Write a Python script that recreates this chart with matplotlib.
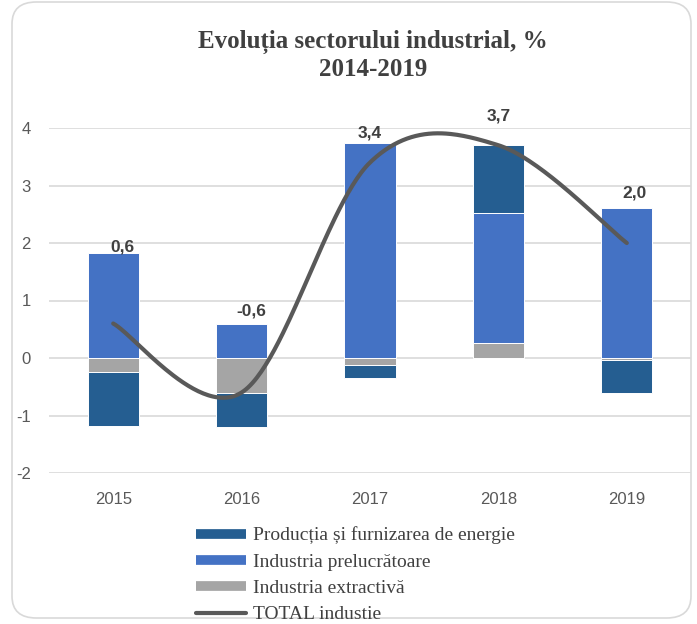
import numpy as np
import matplotlib
matplotlib.use("Agg")
import matplotlib.pyplot as plt
from matplotlib.lines import Line2D
from matplotlib.patches import FancyBboxPatch

# ---- data ----
years = ["2015", "2016", "2017", "2018", "2019"]
energie = [-0.94, -0.59, -0.22, 1.18, -0.56]        # Producția și furnizarea de energie
prelucratoare = [1.83, 0.60, 3.74, 2.26, 2.61]      # Industria prelucrătoare
extractiva = [-0.25, -0.61, -0.12, 0.26, -0.04]     # Industria extractivă
total = [0.6, -0.6, 3.4, 3.7, 2.0]                  # TOTAL industie
total_labels = ["0,6", "-0,6", "3,4", "3,7", "2,0"]
yticks = [-2, -1, 0, 1, 2, 3, 4]

C_EN = "#255E91"
C_PR = "#4472C4"
C_EX = "#A5A5A5"
C_TOT = "#595959"
TXT = "#595959"

W, H = 697, 624
fig = plt.figure(figsize=(W / 100, H / 100), dpi=100)

# outer rounded frame
frame = FancyBboxPatch((12 / W, 6 / H), (691 - 12) / W, (622 - 6) / H,
                       boxstyle="round,pad=0,rounding_size=0.035",
                       transform=fig.transFigure, facecolor="white",
                       edgecolor="#D9D9D9", linewidth=1.2, zorder=-5)
fig.patches.append(frame)

ax = fig.add_axes([49 / W, 1 - 473 / H, (691 - 49) / W, (473 - 128) / H])
ax.set_zorder(2)
ax.set_facecolor("none")

x = np.arange(len(years))
bw = 0.4
pos_bottom = np.zeros(len(years))
neg_bottom = np.zeros(len(years))
for vals, col in [(extractiva, C_EX), (prelucratoare, C_PR), (energie, C_EN)]:
    v = np.array(vals, dtype=float)
    bottoms = np.where(v >= 0, pos_bottom, neg_bottom)
    ax.bar(x, v, bw, bottom=bottoms, color=col, edgecolor="white",
           linewidth=0.7, zorder=2)
    pos_bottom = pos_bottom + np.where(v >= 0, v, 0)
    neg_bottom = neg_bottom + np.where(v < 0, v, 0)

# Excel-like smoothed line (Catmull-Rom Bezier)
P = np.column_stack([x.astype(float), np.array(total, dtype=float)])
n = len(P)
curve = []
for i in range(n - 1):
    p0 = P[max(i - 1, 0)]
    p1 = P[i]
    p2 = P[i + 1]
    p3 = P[min(i + 2, n - 1)]
    c1 = p1 + (p2 - p0) / 6.0
    c2 = p2 - (p3 - p1) / 6.0
    t = np.linspace(0, 1, 60)[:, None]
    seg = ((1 - t) ** 3) * p1 + 3 * ((1 - t) ** 2) * t * c1 + 3 * (1 - t) * t ** 2 * c2 + t ** 3 * p2
    curve.append(seg if i == 0 else seg[1:])
curve = np.vstack(curve)
ax.plot(curve[:, 0], curve[:, 1], color=C_TOT, linewidth=3, solid_capstyle="round", zorder=3)

# data labels (above positive stack)
label_dx = [9, 10, 0, 0, 8]
label_dy = [6, 13, 10, 29, 15]
for i, lab in enumerate(total_labels):
    ax.annotate(lab, (x[i], pos_bottom[i]), xytext=(label_dx[i], label_dy[i]),
                textcoords="offset pixels", ha="center", va="center",
                fontsize=12.5, fontweight="bold", color="#404040",
                family="Liberation Sans", annotation_clip=False, zorder=4)

ax.set_xlim(-0.5, len(years) - 0.5)
ax.set_ylim(-2, 4)
ax.set_yticks(yticks)
ax.set_yticklabels([str(v) for v in yticks])
ax.set_xticks(x)
ax.set_xticklabels(years)
ax.grid(axis="y", color="#D9D9D9", linewidth=1.2, zorder=0)
ax.set_axisbelow(True)
for s in ax.spines.values():
    s.set_visible(False)
ax.tick_params(axis="both", length=0, labelsize=12, labelcolor=TXT)
ax.tick_params(axis="y", pad=13)
ax.tick_params(axis="x", pad=14)
for lab in ax.get_xticklabels() + ax.get_yticklabels():
    lab.set_family("Liberation Sans")

# title
fig.text(373 / W, 1 - 42 / H, "Evoluția sectorului industrial, %", ha="center", va="center",
         fontsize=18, fontweight="bold", color="#404040", family="Liberation Serif")
fig.text(373 / W, 1 - 69 / H, "2014-2019", ha="center", va="center",
         fontsize=18, fontweight="bold", color="#404040", family="Liberation Serif")

# legend
handles = [
    Line2D([0], [0], color=C_EN, linewidth=7, solid_capstyle="butt"),
    Line2D([0], [0], color=C_PR, linewidth=7, solid_capstyle="butt"),
    Line2D([0], [0], color=C_EX, linewidth=7, solid_capstyle="butt"),
    Line2D([0], [0], color=C_TOT, linewidth=3, solid_capstyle="round"),
]
labels = ["Producția și furnizarea de energie", "Industria prelucrătoare",
          "Industria extractivă", "TOTAL industie"]
leg = fig.legend(handles, labels, loc="upper left", bbox_to_anchor=(178 / W, 1 - 509 / H),
                 frameon=False, handlelength=2.6, handletextpad=0.35, labelspacing=0.45,
                 prop={"family": "Liberation Serif", "size": 14})
for t in leg.get_texts():
    t.set_color("#404040")

fig.savefig("out.png", dpi=100)
